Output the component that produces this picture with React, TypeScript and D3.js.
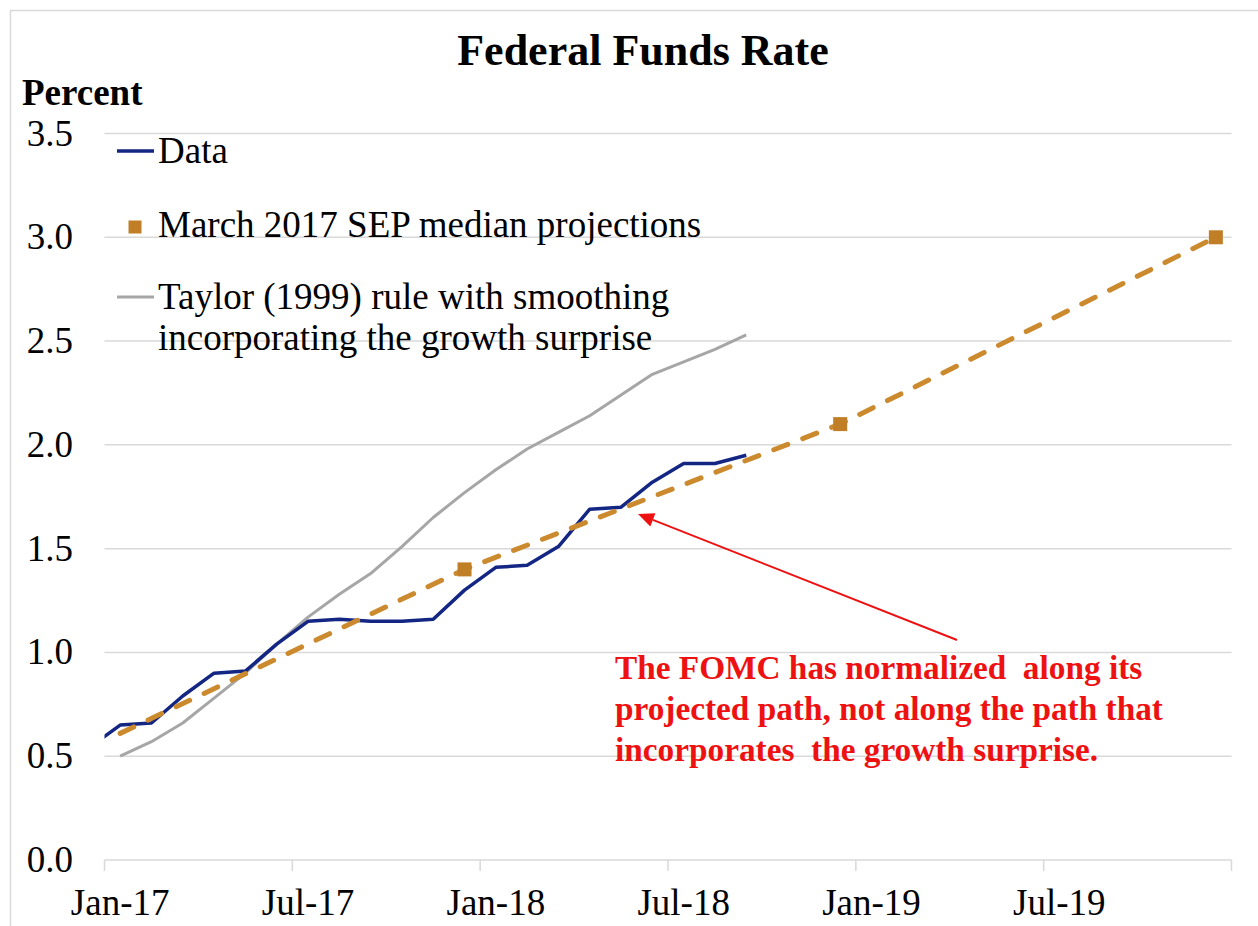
import React from "react";
import * as d3 from "d3";

const W = 1258;
const H = 926;

// x tick labels (every 6 months) and the monthly category span Jan-17 .. Dec-19
const tickLabels = ["Jan-17", "Jul-17", "Jan-18", "Jul-18", "Jan-19", "Jul-19"];
const yTicks = [0, 0.5, 1.0, 1.5, 2.0, 2.5, 3.0, 3.5];

const fedFundsDates = [
  "Dec-16", "Jan-17", "Feb-17", "Mar-17", "Apr-17", "May-17", "Jun-17", "Jul-17", "Aug-17",
  "Sep-17", "Oct-17", "Nov-17", "Dec-17", "Jan-18", "Feb-18", "Mar-18", "Apr-18", "May-18",
  "Jun-18", "Jul-18", "Aug-18", "Sep-18",
];
const fedFundsValues = [
  0.54, 0.65, 0.66, 0.79, 0.9, 0.91, 1.04, 1.15, 1.16, 1.15, 1.15, 1.16, 1.3, 1.41, 1.42, 1.51,
  1.69, 1.7, 1.82, 1.91, 1.91, 1.95,
];

const taylorDates = fedFundsDates.slice(1);
const taylorValues = [
  0.5, 0.57, 0.66, 0.78, 0.9, 1.04, 1.17, 1.28, 1.38, 1.51, 1.65, 1.77, 1.88, 1.98, 2.06, 2.14,
  2.24, 2.34, 2.4, 2.46, 2.53,
];

const sepDates = ["Dec-17", "Dec-18", "Dec-19"];
const sepValues = [1.4, 2.1, 3.0];
const sepPathDates = ["Jan-17", "Dec-17", "Dec-18", "Dec-19"];
const sepPathValues = [0.61, 1.4, 2.1, 3.0];

const MONTHS = ["Jan", "Feb", "Mar", "Apr", "May", "Jun", "Jul", "Aug", "Sep", "Oct", "Nov", "Dec"];
const monthIndex = (s: string) => {
  const [m, y] = s.split("-");
  return (Number(y) - 17) * 12 + MONTHS.indexOf(m);
};

const FONT = "'Liberation Serif', 'Times New Roman', serif";
const NB = "\u00A0";

export default function App() {
  const x0 = 104.5;
  const x1 = 1231.5;
  const yBottom = 860;
  const yTop = 133.5;

  const xEdge = d3.scaleLinear().domain([0, 36]).range([x0, x1]);
  const xc = (s: string) => xEdge(monthIndex(s) + 0.5);
  const y = d3.scaleLinear().domain([0, 3.5]).range([yBottom, yTop]);

  const line = d3
    .line<[string, number]>()
    .x((d) => xc(d[0]))
    .y((d) => y(d[1]));

  const ffPath = line(fedFundsDates.map((d, i) => [d, fedFundsValues[i]]))!;
  const tayPath = line(taylorDates.map((d, i) => [d, taylorValues[i]]))!;
  const sepPath = line(sepPathDates.map((d, i) => [d, sepPathValues[i]]))!;

  const gridColor = "#D9D9D9";
  const navy = "#142683";
  const gray = "#A6A6A6";
  const gold = "#CC8A2E";
  const goldMarker = "#C07F26";
  const red = "#EE1111";

  const tickEdges = d3.range(0, 37, 6);

  // arrow
  const ax0 = 957, ay0 = 640, ax1 = 638, ay1 = 514;
  const ang = Math.atan2(ay1 - ay0, ax1 - ax0);
  const hl = 16, hw = 7;
  const bx = ax1 - hl * Math.cos(ang);
  const by = ay1 - hl * Math.sin(ang);
  const head = [
    [ax1, ay1],
    [bx + hw * Math.sin(ang), by - hw * Math.cos(ang)],
    [bx - hw * Math.sin(ang), by + hw * Math.cos(ang)],
  ];

  return (
    <div style={{ position: "absolute", left: 0, top: 0 }}>
      <svg width={W} height={H} style={{ display: "block", background: "#fff" }} fontFamily={FONT}>
        <rect x={10.5} y={10.5} width={1300} height={1000} fill="none" stroke={gridColor} strokeWidth={1.5} />
        <defs>
          <clipPath id="plot">
            <rect x={x0} y={0} width={x1 - x0} height={yBottom} />
          </clipPath>
        </defs>

        <text x={643} y={65} textAnchor="middle" fontSize={44} fontWeight="bold">
          Federal Funds Rate
        </text>
        <text x={22} y={105} fontSize={37} fontWeight="bold">
          Percent
        </text>

        {/* gridlines */}
        {yTicks.map((v) => (
          <line key={v} x1={x0} x2={x1} y1={y(v)} y2={y(v)} stroke={gridColor} strokeWidth={1.5} />
        ))}
        {tickEdges.map((m) => (
          <line key={m} x1={xEdge(m)} x2={xEdge(m)} y1={yBottom} y2={yBottom + 11} stroke={gridColor} strokeWidth={1.5} />
        ))}

        {/* y labels */}
        {yTicks.map((v) => (
          <text key={v} x={73} y={y(v) + 12} textAnchor="end" fontSize={37}>
            {v.toFixed(1)}
          </text>
        ))}
        {/* x labels */}
        {tickLabels.map((l) => (
          <text key={l} x={xc(l)} y={915} textAnchor="middle" fontSize={37}>
            {l}
          </text>
        ))}

        {/* series */}
        <g clipPath="url(#plot)">
          <path d={tayPath} fill="none" stroke={gray} strokeWidth={3} strokeLinejoin="round" />
          <path d={ffPath} fill="none" stroke={navy} strokeWidth={3.5} strokeLinejoin="round" />
          <path
            d={sepPath}
            fill="none"
            stroke={gold}
            strokeWidth={5}
            strokeDasharray="15 16"
            strokeLinecap="round"
          />
          {sepDates.map((d, i) => (
            <rect key={d} x={xc(d) - 7} y={y(sepValues[i]) - 7} width={14} height={14} fill={goldMarker} />
          ))}
        </g>

        {/* legend */}
        <line x1={117} x2={154} y1={151} y2={151} stroke={navy} strokeWidth={3.5} />
        <text x={158} y={163} fontSize={37}>Data</text>
        <rect x={128.5} y={220.5} width={13} height={13} fill={goldMarker} />
        <text x={158} y={237} fontSize={37}>March 2017 SEP median projections</text>
        <line x1={117} x2={154} y1={297} y2={297} stroke={gray} strokeWidth={3} />
        <text x={158} y={309} fontSize={37}>Taylor (1999) rule with smoothing</text>
        <text x={158} y={350} fontSize={37}>incorporating the growth surprise</text>

        {/* annotation */}
        <line x1={ax0} y1={ay0} x2={bx} y2={by} stroke={red} strokeWidth={2} />
        <polygon points={head.map((p) => p.join(",")).join(" ")} fill={red} />
        <g fill={red} fontWeight="bold" fontSize={33.3}>
          <text x={615} y={679}>{`The FOMC has normalized ${NB}along its`}</text>
          <text x={615} y={720}>{"projected path, not along the path that"}</text>
          <text x={615} y={761}>{`incorporates ${NB}the growth surprise.`}</text>
        </g>
      </svg>
    </div>
  );
}
